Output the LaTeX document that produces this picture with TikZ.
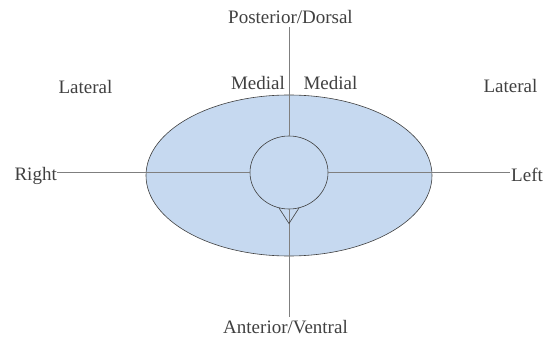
\documentclass[tikz,border=0pt]{standalone}
\usepackage{fontspec}
\setmainfont{Liberation Serif}
\usepackage{tikz}
\usetikzlibrary{positioning,calc,shapes.geometric}
\definecolor{bodyBlue}{HTML}{C6D9F0}
\definecolor{lineGray}{HTML}{7F7F7F}
\definecolor{textGray}{HTML}{404040}

\begin{document}
\begin{tikzpicture}[
    x=1pt,y=-1pt,
    every node/.style={font=\fontsize{19}{22}\selectfont,text=textGray},
    body/.style={ellipse,draw=textGray,fill=bodyBlue,line width=0.6pt,
                 minimum width=286pt,minimum height=161pt,inner sep=0pt},
    canal/.style={ellipse,draw=textGray,line width=0.6pt,
                  minimum width=78pt,minimum height=73pt,inner sep=0pt},
    axis/.style={draw=lineGray,line width=0.7pt},
    lab/.style={inner sep=0pt}
  ]
  \useasboundingbox (0,0) rectangle (554,339);

  \node[body]  (trunk) at (289,175.5) {};
  \node[canal] (cord)  at (289,172.5) {};

  % direction labels
  \node[lab,anchor=base] (post)  at (290.5,23.5) {Posterior/Dorsal};
  \node[lab,anchor=base] (ant)   at (285.5,333)  {Anterior/Ventral};
  \node[lab,anchor=base east] (right) at (57,181)  {Right};
  \node[lab,anchor=base west] (left)  at (511,182) {Left};
  \node[lab,anchor=base] (latR)  at (85.5,94)  {Lateral};
  \node[lab,anchor=base] (latL)  at (510.5,93) {Lateral};
  \node[lab,anchor=base] (medR)  at (258,90)   {Medial};
  \node[lab,anchor=base] (medL)  at (330.5,90) {Medial};

  % axes
  \coordinate (postEnd)  at (289,27);
  \coordinate (antEnd)   at (289,317);
  \coordinate (rightEnd) at (57,172.5);
  \coordinate (leftEnd)  at (510,172.5);
  \draw[axis] (postEnd) -- (cord.north);
  \draw[axis] (cord.south) -- (antEnd);
  \draw[axis] (rightEnd) -- (cord.west);
  \draw[axis] (cord.east) -- (leftEnd);

  % notch
  \coordinate (tip) at (289,223.5);
  \draw[draw=textGray,line width=0.6pt] (279,208) -- (tip) -- (299,208);
\end{tikzpicture}
\end{document}
